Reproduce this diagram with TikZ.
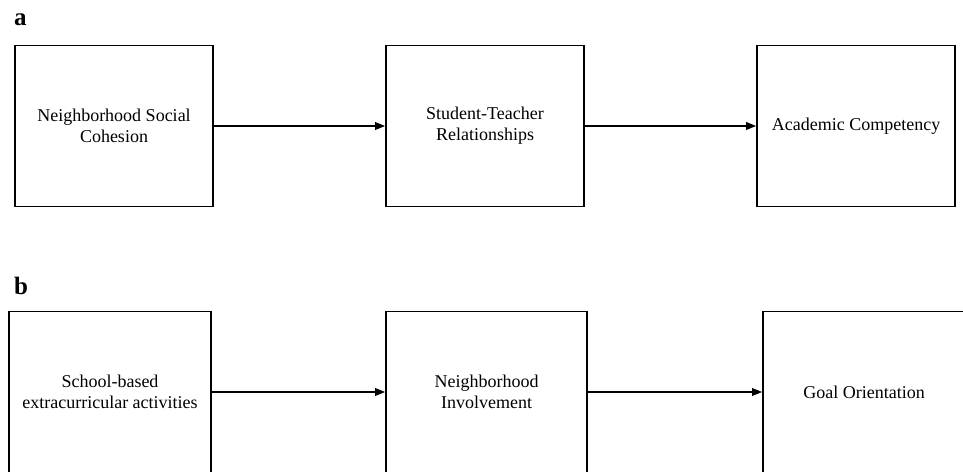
\documentclass[tikz,border=0pt]{standalone}
\usepackage{fontspec}
\setmainfont{Liberation Serif}
\usetikzlibrary{arrows.meta}
\begin{document}
\begin{tikzpicture}[x=1pt,y=1pt,
  box/.style={draw=black, line width=1.6pt, minimum width=198pt, minimum height=161pt,
    inner sep=0pt, align=center, font=\fontsize{18}{21}\selectfont},
  conn/.style={line width=1.8pt, -{Triangle[length=10pt,width=7.5pt]}},
  panel/.style={font=\fontsize{25}{28}\selectfont\bfseries, anchor=base west, inner sep=0pt}]
\useasboundingbox (0,0) rectangle (963,471);
\clip (0,0) rectangle (963,471);
% panel a
\node[panel] (la) at (14,445) {a};
\node[box] (a1) at (114,345) {Neighborhood Social\\Cohesion};
\node[box] (a2) at (485,345) {Student-Teacher\\Relationships};
\node[box] (a3) at (856,345) {Academic Competency};
\draw[conn] (a1) -- (a2);
\draw[conn] (a2) -- (a3);
% panel b
\node[panel] (lb) at (14,176) {b};
\node[box, minimum width=202pt] (b1) at (110,79) {School-based\\extracurricular activities};
\node[box, minimum width=201pt] (b2) at (486.5,79) {Neighborhood\\Involvement};
\node[box, minimum width=202pt] (b3) at (864,79) {Goal Orientation};
\draw[conn] (b1) -- (b2);
\draw[conn] (b2) -- (b3);
\end{tikzpicture}
\end{document}
